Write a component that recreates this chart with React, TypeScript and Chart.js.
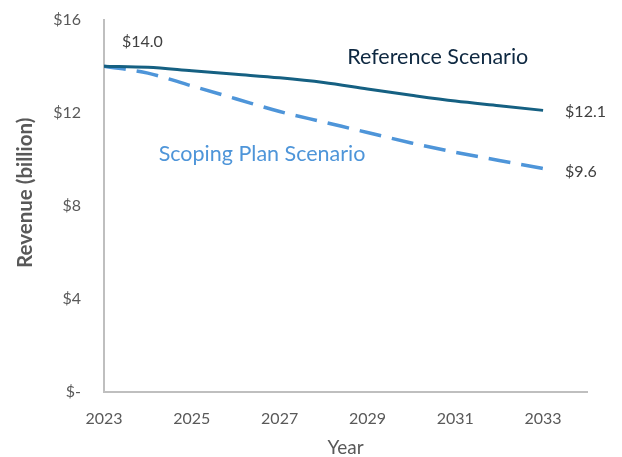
import React, { useEffect, useRef } from "react";
import { Chart, registerables } from "chart.js";

Chart.register(...registerables);

const years = [2023, 2024, 2025, 2026, 2027, 2028, 2029, 2030, 2031, 2032, 2033];
const referenceValues = [14.0, 13.95, 13.8, 13.65, 13.5, 13.3, 13.02, 12.75, 12.5, 12.3, 12.1];
const scopingValues = [14.0, 13.7, 13.15, 12.6, 12.05, 11.6, 11.15, 10.7, 10.3, 9.95, 9.6];
const xTickYears = [2023, 2025, 2027, 2029, 2031, 2033];
const yTickValues = [0, 4, 8, 12, 16];
const xAxisMax = 2034;
const yAxisTitle = "Revenue (billion)";
const xAxisTitle = "Year";

const seriesNames = ["Reference Scenario", "Scoping Plan Scenario"];
// label anchor positions in data space [year, value]
const seriesLabelAnchors = [
  [2030.6, 14.37],
  [2026.6, 10.24],
];

const FONT = "Lato, 'Open Sans', sans-serif";

const labelsPlugin = {
  id: "customLabels",
  afterDatasetsDraw(chart: any) {
    const { ctx, scales, chartArea } = chart;
    const x = scales.x;
    const y = scales.y;
    ctx.save();
    ctx.textBaseline = "middle";
    const nameColors = ["#0E2841", "#4E95D9"];
    ctx.font = `21.5px ${FONT}`;
    ctx.textAlign = "center";
    seriesNames.forEach((name, i) => {
      const [ax, ay] = seriesLabelAnchors[i];
      ctx.fillStyle = nameColors[i];
      ctx.fillText(name, x.getPixelForValue(ax), y.getPixelForValue(ay));
    });
    ctx.font = `16px ${FONT}`;
    ctx.fillStyle = "#404040";
    ctx.textAlign = "left";
    const first = referenceValues[0];
    ctx.fillText(
      "$" + first.toFixed(1),
      x.getPixelForValue(years[0]) + 18,
      y.getPixelForValue(first) - 24
    );
    const lastYear = years[years.length - 1];
    const lastRef = referenceValues[referenceValues.length - 1];
    const lastSc = scopingValues[scopingValues.length - 1];
    ctx.fillText("$" + lastRef.toFixed(1), x.getPixelForValue(lastYear) + 22, y.getPixelForValue(lastRef) + 1);
    ctx.fillText("$" + lastSc.toFixed(1), x.getPixelForValue(lastYear) + 22, y.getPixelForValue(lastSc) + 3);

    // y axis title (drawn manually to match its off-centre placement)
    ctx.save();
    ctx.translate(25, (chartArea.top + chartArea.bottom) / 2 - 13);
    ctx.rotate(-Math.PI / 2);
    ctx.textAlign = "center";
    ctx.fillStyle = "#595959";
    ctx.font = `bold 20.5px ${FONT}`;
    ctx.fillText(yAxisTitle, 0, 0);
    ctx.restore();
    ctx.restore();
  },
};

export default function App() {
  const canvasRef = useRef<HTMLCanvasElement>(null);

  useEffect(() => {
    if (!canvasRef.current) return;
    const chart = new Chart(canvasRef.current, {
      type: "line",
      data: {
        datasets: [
          {
            label: seriesNames[0],
            data: years.map((yr, i) => ({ x: yr, y: referenceValues[i] })),
            borderColor: "#156082",
            borderWidth: 3,
            pointRadius: 0,
            cubicInterpolationMode: "monotone",
            fill: false,
          },
          {
            label: seriesNames[1],
            data: years.map((yr, i) => ({ x: yr, y: scopingValues[i] })),
            borderColor: "#4E95D9",
            borderWidth: 3.5,
            borderDash: [22, 11],
            pointRadius: 0,
            cubicInterpolationMode: "monotone",
            fill: false,
          },
        ],
      },
      options: {
        animation: false,
        responsive: false,
        maintainAspectRatio: false,
        layout: { padding: { left: 0, right: 35, top: 9, bottom: 0 } },
        plugins: {
          legend: { display: false },
          tooltip: { enabled: false },
        },
        scales: {
          x: {
            type: "linear",
            min: years[0],
            max: xAxisMax,
            grid: { display: false, drawTicks: false },
            border: { display: true, color: "#BFBFBF", width: 2 },
            afterBuildTicks: (scale: any) => {
              scale.ticks = xTickYears.map((v) => ({ value: v }));
            },
            afterFit: (scale: any) => {
              scale.height = 65;
            },
            ticks: {
              padding: 17,
              color: "#595959",
              font: { family: FONT, size: 16 },
              maxRotation: 0,
              autoSkip: false,
              callback: (v: any) => String(v),
            },
            title: {
              display: true,
              text: xAxisTitle,
              color: "#595959",
              font: { family: FONT, size: 19, lineHeight: 1.0 },
              padding: { top: 0, bottom: 0 },
            },
          },
          y: {
            min: 0,
            max: 16,
            grid: { display: false, drawTicks: true, tickLength: 13 },
            border: { display: true, color: "#BFBFBF", width: 2 },
            afterBuildTicks: (scale: any) => {
              scale.ticks = yTickValues.map((v) => ({ value: v }));
            },
            afterFit: (scale: any) => {
              scale.width = 104;
            },
            ticks: {
              padding: 10,
              color: "#595959",
              font: { family: FONT, size: 16 },
              callback: (v: any) => (v === 0 ? "$-" : "$" + v),
            },
            title: { display: false },
          },
        },
      },
      plugins: [labelsPlugin],
    } as any);
    return () => chart.destroy();
  }, []);

  return (
    <div style={{ position: "fixed", left: 0, top: 0, width: 622, height: 457, background: "#fff" }}>
      <canvas ref={canvasRef} width={622} height={457} style={{ width: 622, height: 457 }} />
    </div>
  );
}
